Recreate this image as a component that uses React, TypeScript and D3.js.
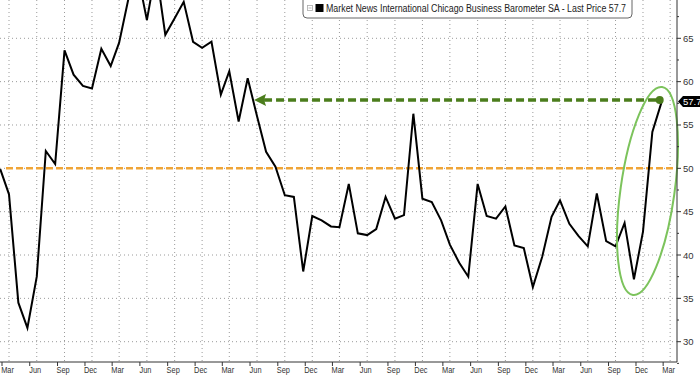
import React from 'react';
import * as d3 from 'd3';

const W = 700;
const H = 375;

// Chicago Business Barometer, monthly, Feb 2020 .. Feb 2026
const startMonth = new Date(2020, 1, 1);
const pmi = [
  49.9, 47.0, 34.5, 31.6, 37.5, 52.0, 50.5, 63.6, 60.8, 59.5, 59.2, 63.8,
  61.8, 64.5, 69.6, 72.5, 67.1, 73.0, 65.4, 67.3, 69.2, 64.6, 63.9, 64.6,
  58.5, 61.2, 55.4, 60.4, 56.0, 51.9, 50.2, 46.9, 46.7, 38.1, 44.5, 44.0,
  43.3, 43.2, 48.2, 42.5, 42.3, 43.0, 46.7, 44.2, 44.6, 56.3, 46.5, 46.1,
  44.0, 41.2, 39.1, 37.5, 48.2, 44.5, 44.2, 45.6, 41.1, 40.8, 36.3, 39.8,
  44.4, 46.3, 43.6, 42.2, 41.0, 47.1, 41.6, 41.0, 43.7, 37.2, 42.7, 54.2,
  57.7,
];
const yTicks = [30, 35, 40, 45, 50, 55, 60, 65];
const yMinor = [27.5, 32.5, 37.5, 42.5, 47.5, 52.5, 57.5, 62.5, 67.5];
const tickStart = new Date(2020, 2, 1);
const tickEnd = new Date(2026, 2, 2);
const threshold = 50;
const arrowFrom = new Date(2022, 5, 1); // last time the index was this high
const legendText = 'Market News International Chicago Business Barometer SA - Last Price 57.7';

const dates = pmi.map((_, i) => d3.timeMonth.offset(startMonth, i));
const lastValue = pmi[pmi.length - 1];
const lastDate = dates[dates.length - 1];

const axisX = 677;
const axisY = 362;

const x = d3.scaleTime()
  .domain([new Date(2020, 2, 1), lastDate])
  .range([9, 661.7]);
const y = d3.scaleLinear().domain([30, 65]).range([341.7, 38.3]);

const xTicks = d3.timeMonth.range(tickStart, tickEnd, 3);
const fmt = d3.timeFormat('%b');

const line = d3.line<number>()
  .x((_, i) => x(dates[i]))
  .y(d => y(d));

const font = '"Liberation Sans", Arial, sans-serif';

export default function App() {
  const ay = y(lastValue) - 1.5;
  const tipX = x(arrowFrom) - 3;
  const endX = x(lastDate) - 2;
  return (
    <div style={{ position: 'absolute', left: 0, top: 0 }}>
      <svg width={W} height={H} style={{ display: 'block', background: '#fff' }}>
        <defs>
          <clipPath id="plot">
            <rect x={0} y={0} width={axisX} height={axisY} />
          </clipPath>
        </defs>

        {/* grid */}
        {yTicks.map(t => (
          <line key={'h' + t} x1={0} x2={axisX} y1={y(t)} y2={y(t)}
            stroke="#9a9a9a" strokeWidth={1} strokeDasharray="1,3" />
        ))}
        {xTicks.map((d, i) => (
          <line key={'v' + i} x1={x(d)} x2={x(d)} y1={0} y2={axisY}
            stroke="#9a9a9a" strokeWidth={1} strokeDasharray="1,3" />
        ))}

        {/* 50 threshold */}
        <line x1={6} x2={axisX} y1={y(threshold)} y2={y(threshold)}
          stroke="#f0a537" strokeWidth={2.5} strokeDasharray="7,3" />

        {/* series */}
        <g clipPath="url(#plot)">
          <path d={line(pmi) || ''} fill="none" stroke="#000" strokeWidth={2}
            strokeLinejoin="miter" />
        </g>

        {/* green arrow to last reading */}
        <line x1={tipX + 10} x2={endX} y1={ay} y2={ay}
          stroke="#4b7d1c" strokeWidth={3.5} strokeDasharray="8,4" />
        <path d={`M${tipX},${ay} L${tipX + 12},${ay - 6} L${tipX + 10},${ay} L${tipX + 12},${ay + 6} Z`}
          fill="#4b7d1c" />
        <circle cx={endX} cy={ay} r={4} fill="#4b7d1c" />

        {/* highlight ellipse */}
        <ellipse cx={647.5} cy={191} rx={27} ry={105} transform="rotate(8 647.5 191)"
          fill="none" stroke="#7cc35c" strokeWidth={2} />

        {/* axes */}
        <line x1={axisX} x2={axisX} y1={0} y2={axisY} stroke="#333" strokeWidth={1} />
        <line x1={0} x2={axisX} y1={axisY} y2={axisY} stroke="#333" strokeWidth={1} />
        {yTicks.map(t => (
          <g key={'yt' + t}>
            <line x1={axisX} x2={axisX + 4} y1={y(t)} y2={y(t)} stroke="#333" />
            <text x={axisX + 6} y={y(t) + 3.5} fontSize={9.5} fontFamily={font} fill="#333">{t}</text>
          </g>
        ))}
        {yMinor.map(t => (
          <line key={'ym' + t} x1={axisX} x2={axisX + 2} y1={y(t)} y2={y(t)} stroke="#333" />
        ))}
        {xTicks.map((d, i) => (
          <g key={'xt' + i}>
            <line x1={x(d) - 7} x2={x(d) - 7} y1={axisY} y2={axisY + 4} stroke="#333" />
            <text transform={`translate(${x(d) - 1.5},${373}) scale(0.78,1)`} textAnchor="middle"
              fontSize={9.5} fontFamily={font} fill="#333">{fmt(d)}</text>
          </g>
        ))}

        {/* last price tag */}
        <path d={`M${axisX + 1},${y(lastValue)} l5,-5.5 h17 v11 h-17 z`} fill="#000" />
        <text x={axisX + 6} y={y(lastValue) + 3.5} fontSize={9.5} fontFamily={font} fill="#fff">
          {lastValue.toFixed(1)}
        </text>

        {/* legend */}
        <rect x={303} y={-6} width={329} height={24} rx={4} fill="#fff" stroke="#666" />
        <rect x={307.5} y={5.5} width={5} height={5} fill="none" stroke="#aaa" strokeWidth={0.8} />
        <line x1={308.5} x2={311.5} y1={8} y2={8} stroke="#aaa" strokeWidth={0.8} />
        <rect x={315.5} y={4} width={8} height={8} fill="#000" />
        <text x={326} y={12} fontSize={10} fontFamily={font} fill="#222"
          textLength={300} lengthAdjust="spacingAndGlyphs">{legendText}</text>
      </svg>
    </div>
  );
}
